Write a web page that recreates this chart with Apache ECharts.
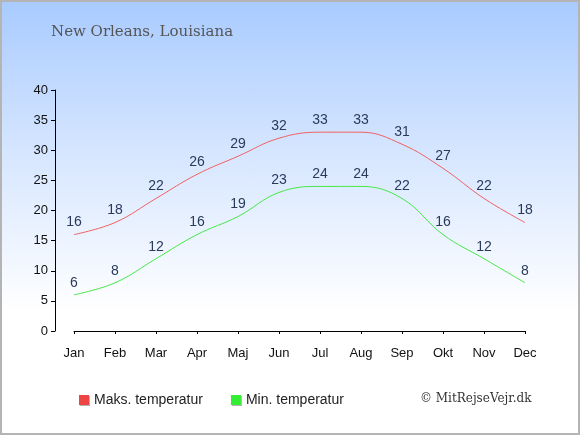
<!DOCTYPE html>
<html>
<head>
<meta charset="utf-8">
<script src="https://cdn.jsdelivr.net/npm/echarts@6/dist/echarts.min.js"></script>
<style>
html,body{margin:0;padding:0;background:#fff;}
#c{width:580px;height:435px;box-sizing:border-box;border:2px solid #b4b4b4;background:linear-gradient(to bottom,#a9cbff 0%,#d6e6ff 35%,#ffffff 72%,#ffffff 100%);}
</style>
</head>
<body>
<div id="c"></div>
<script>
var months = ['Jan','Feb','Mar','Apr','Maj','Jun','Jul','Aug','Sep','Okt','Nov','Dec'];
var maxTemp = [16,18,22,26,29,32,33,33,31,27,22,18];
var minTemp = [6,8,12,16,19,23,24,24,22,16,12,8];
var yTicks = {min:0,max:40,interval:5};

var chart = echarts.init(document.getElementById('c'), null, {renderer:'canvas'});
var lbl = {show:true,position:'top',distance:5,color:'#2a3a5a',fontSize:14,fontFamily:'Liberation Sans'};
chart.setOption({
  backgroundColor:'transparent',
  animation:false,
  title:{text:'New Orleans, Louisiana',left:44,top:18,textStyle:{fontFamily:'DejaVu Serif',fontWeight:'normal',fontSize:15,color:'#555555'}},
  grid:{left:72,right:53,top:88,bottom:102,containLabel:false},
  xAxis:{type:'category',data:months,boundaryGap:false,offset:10,
    axisLine:{lineStyle:{color:'#000',width:1}},
    axisTick:{show:true,length:3,lineStyle:{color:'#000'}},
    axisLabel:{color:'#111',fontSize:13,fontFamily:'Liberation Sans',margin:6},
    splitLine:{show:false}},
  yAxis:{type:'value',min:yTicks.min,max:yTicks.max,interval:yTicks.interval,offset:19,
    axisLine:{show:true,lineStyle:{color:'#000',width:1}},
    axisTick:{show:true,length:4,lineStyle:{color:'#000'}},
    axisLabel:{color:'#111',fontSize:13,fontFamily:'Liberation Sans',margin:7},
    splitLine:{show:false}},
  legend:{left:77,top:391,padding:0,icon:'rect',itemWidth:10,itemHeight:10,itemGap:28,
    textStyle:{fontSize:14,color:'#222',fontFamily:'Liberation Sans'},
    data:[{name:'Maks. temperatur',itemStyle:{color:'#ee4444',shadowColor:'rgba(0,0,0,0.3)',shadowOffsetX:1,shadowOffsetY:1}},
          {name:'Min. temperatur',itemStyle:{color:'#33ee33',shadowColor:'rgba(0,0,0,0.3)',shadowOffsetX:1,shadowOffsetY:1}}]},
  graphic:[{type:'text',left:418,top:391,style:{text:'© MitRejseVejr.dk',font:'12px "DejaVu Serif"',fill:'#333'}}],
  series:[
    {name:'Maks. temperatur',type:'line',data:maxTemp,smooth:0.4,symbol:'circle',symbolSize:0.1,
      lineStyle:{color:'#f06060',width:1},itemStyle:{color:'#ee4444'},label:lbl},
    {name:'Min. temperatur',type:'line',data:minTemp,smooth:0.4,symbol:'circle',symbolSize:0.1,
      lineStyle:{color:'#44e844',width:1},itemStyle:{color:'#33ee33'},label:lbl}
  ]
});
</script>
</body>
</html>
